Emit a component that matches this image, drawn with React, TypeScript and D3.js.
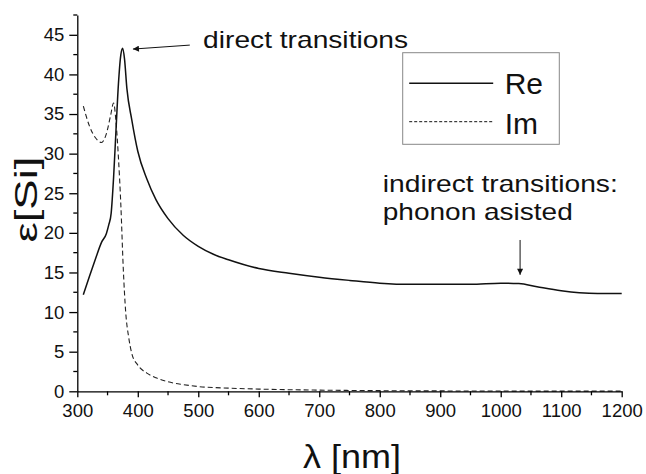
import { useEffect, useRef } from 'react';
import * as d3 from 'd3';

// Real part of the dielectric function of Si
const reWavelength = [310, 320, 330, 340, 348, 352, 356, 360, 364, 368, 372, 375, 378, 382, 390, 400, 415, 430, 450, 475, 500, 525, 550, 600, 650, 700, 750, 800, 850, 900, 950, 1000, 1030, 1060, 1100, 1130, 1160, 1200];
const reValues = [12.2, 14.5, 16.7, 18.8, 19.9, 21, 22.5, 27, 33, 38.8, 42.5, 43.3, 42, 38.2, 34.3, 30.3, 26.8, 24.2, 21.8, 19.7, 18.3, 17.3, 16.6, 15.5, 14.9, 14.4, 14.0, 13.65, 13.5, 13.5, 13.5, 13.65, 13.6, 13.2, 12.7, 12.45, 12.35, 12.35];

// Imaginary part
const imWavelength = [310, 320, 330, 340, 348, 355, 360, 364, 368, 372, 376, 380, 385, 390, 400, 415, 430, 450, 475, 500, 550, 600, 700, 800, 900, 1000, 1200];
const imValues = [36.0, 33.5, 32.0, 31.4, 32.5, 34.8, 36.4, 34, 29.5, 23.5, 15.5, 10, 6.8, 4.8, 3.3, 2.3, 1.7, 1.2, 0.85, 0.6, 0.4, 0.28, 0.15, 0.08, 0.05, 0.03, 0.02];

const xTicks = [300, 400, 500, 600, 700, 800, 900, 1000, 1100, 1200];
const yTicks = [0, 5, 10, 15, 20, 25, 30, 35, 40, 45];

const legendLabels = ['Re', 'Im'];

// annotations, in data units
const directArrow = { from: [486, 43.7], to: [392, 43.2], text: 'direct transitions', textAt: [508, 43.35] };
const indirectArrow = { from: [1032, 19.1], to: [1032, 14.7], lines: ['indirect transitions:', 'phonon asisted'], textAt: [805, 25.2] };

const FONT = '"Liberation Sans", Arial, Helvetica, sans-serif';

export default function App() {
  const svgRef = useRef<SVGSVGElement>(null);

  useEffect(() => {
    const root = d3.select(svgRef.current);
    root.selectAll('*').remove();

    const W = 646, H = 474;
    const margin = { top: 15, right: 24.3, bottom: 82.7, left: 77.3 };
    const width = W - margin.left - margin.right;
    const height = H - margin.top - margin.bottom;

    root.attr('width', W).attr('height', H);

    const defs = root.append('defs');
    defs.append('marker')
      .attr('id', 'arrow')
      .attr('viewBox', '0 0 10 10')
      .attr('refX', 10).attr('refY', 5)
      .attr('markerWidth', 10).attr('markerHeight', 6)
      .attr('markerUnits', 'userSpaceOnUse')
      .attr('orient', 'auto')
      .append('path')
      .attr('d', 'M0,0 L10,5 L0,10 Z')
      .attr('fill', '#111');

    const svg = root.append('g').attr('transform', `translate(${margin.left},${margin.top})`);

    const x = d3.scaleLinear().domain([300, 1200]).range([0, width]);
    const y = d3.scaleLinear().domain([0, 47.5]).range([height, 0]);

    const re = reWavelength.map((w, i) => [w, reValues[i]] as [number, number]);
    const im = imWavelength.map((w, i) => [w, imValues[i]] as [number, number]);

    const line = d3.line<[number, number]>()
      .x(d => x(d[0]))
      .y(d => y(d[1]))
      .curve(d3.curveMonotoneX);

    svg.append('path').datum(im)
      .attr('fill', 'none').attr('stroke', '#222')
      .attr('stroke-width', 1.1).attr('stroke-dasharray', '5,3')
      .attr('d', line);

    svg.append('path').datum(re)
      .attr('fill', 'none').attr('stroke', '#111')
      .attr('stroke-width', 1.5)
      .attr('d', line);

    // x axis
    const xMinor = d3.range(350, 1200, 100);
    const xAxis = svg.append('g').attr('transform', `translate(0,${height})`);
    xAxis.call(d3.axisBottom(x).tickValues(xTicks).tickFormat(d3.format('d')).tickSize(6).tickPadding(7).tickSizeOuter(0))
      .call(g => g.select('.domain').attr('stroke-width', 1.3))
      .call(g => g.selectAll('.tick line').attr('stroke-width', 1.3))
      .call(g => g.selectAll('text').attr('font-size', 18.5).attr('font-family', FONT).attr('fill', '#111'));
    xAxis.selectAll('.minor').data(xMinor).enter().append('line')
      .attr('x1', d => x(d)).attr('x2', d => x(d))
      .attr('y1', 0).attr('y2', 4)
      .attr('stroke', '#000').attr('stroke-width', 1.3);

    // y axis
    const yMinor = d3.range(2.5, 48, 5);
    const yAxis = svg.append('g');
    yAxis.call(d3.axisLeft(y).tickValues(yTicks).tickSize(8).tickPadding(5).tickSizeOuter(0))
      .call(g => g.select('.domain').attr('stroke-width', 1.3))
      .call(g => g.selectAll('.tick line').attr('stroke-width', 1.3))
      .call(g => g.selectAll('text').attr('font-size', 18.5).attr('font-family', FONT).attr('fill', '#111'));
    yAxis.selectAll('.minor').data(yMinor).enter().append('line')
      .attr('y1', d => y(d)).attr('y2', d => y(d))
      .attr('x1', 0).attr('x2', -4)
      .attr('stroke', '#000').attr('stroke-width', 1.3);

    // axis titles
    root.append('text')
      .attr('x', margin.left + x(754)).attr('y', 468)
      .attr('text-anchor', 'middle')
      .attr('font-family', FONT).attr('font-size', 33).attr('fill', '#111')
      .attr('textLength', 98).attr('lengthAdjust', 'spacingAndGlyphs')
      .text('λ [nm]');

    root.append('text')
      .attr('transform', `translate(37,${margin.top + y(24.2)}) rotate(-90)`)
      .attr('text-anchor', 'middle')
      .attr('font-family', FONT).attr('font-size', 31).attr('fill', '#111')
      .attr('textLength', 86).attr('lengthAdjust', 'spacingAndGlyphs')
      .text('ε[Si]');

    // annotations
    svg.append('line')
      .attr('x1', x(directArrow.from[0])).attr('y1', y(directArrow.from[1]))
      .attr('x2', x(directArrow.to[0])).attr('y2', y(directArrow.to[1]))
      .attr('stroke', '#111').attr('stroke-width', 1)
      .attr('marker-end', 'url(#arrow)');
    svg.append('text')
      .attr('x', x(directArrow.textAt[0])).attr('y', y(directArrow.textAt[1]))
      .attr('font-family', FONT).attr('font-size', 24).attr('fill', '#111')
      .attr('textLength', 205).attr('lengthAdjust', 'spacingAndGlyphs')
      .text(directArrow.text);

    svg.append('line')
      .attr('x1', x(indirectArrow.from[0])).attr('y1', y(indirectArrow.from[1]))
      .attr('x2', x(indirectArrow.to[0])).attr('y2', y(indirectArrow.to[1]))
      .attr('stroke', '#111').attr('stroke-width', 1)
      .attr('marker-end', 'url(#arrow)');
    indirectArrow.lines.forEach((t, i) => {
      svg.append('text')
        .attr('x', x(indirectArrow.textAt[0])).attr('y', y(indirectArrow.textAt[1]) + i * 28.5)
        .attr('font-family', FONT).attr('font-size', 24).attr('fill', '#111')
        .attr('textLength', i === 0 ? 235 : 190).attr('lengthAdjust', 'spacingAndGlyphs')
        .text(t);
    });

    // legend
    const legend = root.append('g').attr('transform', 'translate(402.7,52.7)');
    legend.append('rect')
      .attr('width', 156.6).attr('height', 91.6)
      .attr('fill', 'white').attr('stroke', '#888').attr('stroke-width', 1);
    legendLabels.forEach((lab, i) => {
      const ly = 30.5 + i * 38.5;
      legend.append('line')
        .attr('x1', 6.5).attr('x2', 90.5).attr('y1', ly).attr('y2', ly)
        .attr('stroke', '#111')
        .attr('stroke-width', i === 0 ? 1.5 : 1)
        .attr('stroke-dasharray', i === 0 ? null : '3,2');
      legend.append('text')
        .attr('x', 102).attr('y', ly + 7 + i * 1.5 + 3.7)
        .attr('font-family', FONT).attr('font-size', 30).attr('fill', '#111')
        .text(lab);
    });
  }, []);

  return (
    <svg ref={svgRef} style={{ position: 'absolute', left: 0, top: 0, background: 'white' }}></svg>
  );
}
